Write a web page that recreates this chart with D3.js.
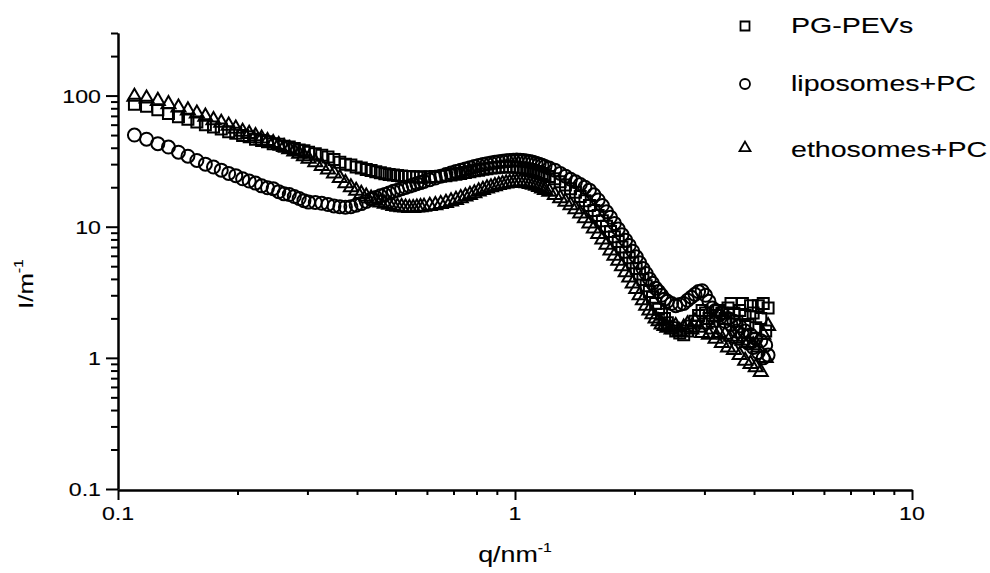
<!DOCTYPE html>
<html><head><meta charset="utf-8">
<script src="https://cdn.jsdelivr.net/npm/d3@7"></script>
<style>
body{margin:0;background:#fff}
svg{display:block}
text{font-family:"Liberation Sans",Arial,sans-serif;fill:#000;stroke:#000;stroke-width:0.12px}
</style>
</head><body>
<svg id="chart" width="990" height="573"></svg>
<script>
// ---- data ----
const q = [
  0.110,0.118,0.126,0.134,0.142,0.150,0.158,0.166,0.174,0.182,
  0.190,0.198,0.206,0.214,0.222,0.230,0.238,0.246,0.254,0.262,
  0.270,0.278,0.286,0.294,0.302,
  0.314,0.326,0.338,0.350,0.362,0.374,0.386,0.398,0.410,0.422,0.434,0.446,
  0.458,0.470,0.482,0.494,0.506,0.518,0.530,0.542,0.554,0.566,0.578,0.590,
  0.61,0.63,0.65,0.67,0.69,0.71,0.73,0.75,0.77,0.79,
  0.81,0.83,0.85,0.87,0.89,0.91,0.93,0.95,0.97,0.99,
  1.01,1.03,1.05,1.07,1.09,1.11,1.13,1.15,1.17,1.19,
  1.22,1.26,1.30,1.34,1.38,1.42,1.46,1.50,1.54,1.58,
  1.62,1.66,1.70,1.74,1.78,1.82,1.86,1.90,1.94,1.98,
  2.02,2.06,2.10,2.14,2.18,2.22,2.26,2.30,2.34,2.38,
  2.42,2.48,2.54,2.60,2.66,2.72,2.78,2.84,2.90,2.96,
  3.02,3.08,3.14,3.20,3.26,3.32,3.38,3.44,3.50,3.56,
  3.62,3.68,3.74,3.80,3.86,3.92,3.98,4.04,4.10,4.16,
  4.22,4.28,4.34
];
const pgPEVs = [
  86,83,78,73,69,66,63,60,57.5,55.5,
  53,51.5,49.5,48.5,46.5,45.5,44.5,43,42.5,41,
  40.5,39.5,38.5,38,37,
  36,35,34,32.5,31,30,29.5,28.5,28,27.3,26.8,26.2,
  25.8,25.3,25,24.8,24.6,24.4,24.2,24.1,24,23.9,23.9,23.9,
  24.0,24.1,24.3,24.5,24.8,25.1,25.5,25.9,26.3,26.7,
  27.0,27.4,27.7,28.0,28.2,28.4,28.5,28.6,28.6,28.5,
  28.4,28.2,28.0,27.7,27.3,26.9,26.4,25.9,25.4,24.9,
  24.2,23.2,22.0,20.8,19.5,18.3,17.0,15.8,14.5,13.3,
  12.2,11.1,10.1,9.2,8.4,7.7,7.0,6.4,5.8,5.3,
  4.8,4.35,3.95,3.55,3.2,2.9,2.6,2.35,2.15,2.0,
  1.85,1.7,1.6,1.55,1.5,1.6,1.75,1.9,2.1,2.3,
  2.2,2.0,1.9,2.1,2.3,2.2,2.0,2.4,2.6,2.2,
  1.9,2.3,2.6,2.1,1.8,2.5,2.2,1.7,2.5,2.0,
  2.6,1.6,2.4
];
const liposomesPC = [
  50,46.5,43,40.5,37,34.5,32,30,28.5,27,
  25.5,24.5,23.2,22.3,21.5,20.5,19.8,19.5,18.5,17.8,
  17.6,17.0,16.4,15.8,15.4,
  15.3,15.1,14.8,14.4,14.2,14.1,14.2,14.6,15.0,15.6,16.2,16.7,
  17.2,17.6,18.1,18.6,19.0,19.5,19.9,20.4,20.8,21.3,21.7,22.1,
  22.8,23.5,24.3,25.0,25.7,26.4,27.0,27.6,28.2,28.8,
  29.3,29.8,30.2,30.6,31.0,31.3,31.6,31.8,32.0,32.1,
  32.2,32.1,32.0,31.7,31.4,31.0,30.5,30.0,29.4,28.8,
  28,27,25.5,24.3,23,22,21,20,19,17.5,
  16,14.5,13,11.8,10.6,9.6,8.7,7.9,7.2,6.5,
  5.9,5.3,4.8,4.4,4.0,3.7,3.4,3.2,3.0,2.8,
  2.7,2.6,2.5,2.55,2.6,2.75,2.9,3.05,3.2,3.25,
  3.0,2.7,2.4,2.3,2.1,2.2,1.9,2.0,1.8,1.9,
  1.6,1.75,1.5,1.6,1.3,1.5,1.2,1.4,1.1,1.35,
  1.0,1.25,1.05
];
const ethosomesPC = [
  98,95,91,86,81,77,73,69,65,62,
  59,56,53,51,49,47,45,43.5,42,40.5,
  39,37.5,36,34.5,33,
  31,29,27.3,25.5,23.5,21.5,20,18.8,17.8,17,16.4,15.8,
  15.3,15,14.7,14.4,14.2,14.1,14,13.9,13.9,14,14.1,14.2,
  14.4,14.6,14.9,15.2,15.6,16.0,16.5,17.0,17.5,18.0,
  18.6,19.1,19.6,20.0,20.4,20.8,21.1,21.4,21.6,21.7,
  21.8,21.8,21.7,21.5,21.2,20.9,20.5,20.1,19.6,19.1,
  18.5,17.5,16.5,15.5,14.6,13.6,12.6,11.6,10.6,9.7,
  8.8,8.0,7.3,6.6,6.0,5.5,5.0,4.5,4.1,3.7,
  3.35,3.0,2.75,2.5,2.3,2.15,2.0,1.9,1.8,1.75,
  1.7,1.65,1.75,1.6,1.7,1.8,1.65,1.9,1.7,1.55,
  1.8,1.5,1.65,1.4,1.55,1.3,1.5,1.2,1.45,1.15,
  1.4,1.05,1.35,0.95,1.3,0.9,1.25,0.85,1.2,0.78,
  1.5,1.0,1.75
];
const seriesNames = ["PG-PEVs", "liposomes+PC", "ethosomes+PC"];
const seriesShapes = ["square", "circle", "triangle"];
const xTickLabels = ["0.1", "1", "10"];
const yTickLabels = ["0.1", "1", "10", "100"];
const xTitle = "q/nm";
const yTitle = "I/m";
const titleSup = "-1";

// ---- layout ----
const SX = 1.22; // wide glyphs seen in the reference
const svg = d3.select("#chart");
const x = d3.scaleLog().domain([0.1, 10]).range([118, 912]);
const y = d3.scaleLog().domain([0.1, 300]).range([489, 33]);
const X0 = 490;

const isMajor = v => Math.abs(Math.log10(v) - Math.round(Math.log10(v))) < 1e-9;

function styleAxis(g) {
  g.selectAll("path,line").attr("stroke", "#000").attr("stroke-width", 2);
  g.selectAll("text").remove();
}
const xMinor = x.ticks().filter(v => !isMajor(v));
const xMajor = x.ticks().filter(isMajor);
svg.append("g").attr("transform", `translate(0,${X0})`)
  .call(d3.axisBottom(x).tickValues(xMinor).tickSize(5).tickSizeOuter(0).tickFormat(""))
  .call(styleAxis);
svg.append("g").attr("transform", `translate(0,${X0})`)
  .call(d3.axisBottom(x).tickValues(xMajor).tickSize(10).tickSizeOuter(0).tickFormat(""))
  .call(styleAxis);

const yMinor = y.ticks().filter(v => !isMajor(v));
const yMajor = y.ticks().filter(isMajor);
svg.append("g").attr("transform", `translate(118,0)`)
  .call(d3.axisLeft(y).tickValues(yMinor).tickSize(7).tickSizeOuter(0).tickFormat(""))
  .call(styleAxis);
svg.append("g").attr("transform", `translate(118,0)`)
  .call(d3.axisLeft(y).tickValues(yMajor).tickSize(12).tickSizeOuter(0).tickFormat(""))
  .call(styleAxis);

// tick labels
xMajor.forEach((v, i) => {
  svg.append("text")
    .attr("transform", `translate(${x(v)},520) scale(${SX},1)`)
    .attr("text-anchor", "middle").attr("font-size", 19)
    .text(xTickLabels[i]);
});
yMajor.forEach((v, i) => {
  svg.append("text")
    .attr("transform", `translate(101,${y(v) + 7}) scale(${SX},1)`)
    .attr("text-anchor", "end").attr("font-size", 19)
    .text(yTickLabels[i]);
});

// axis titles
const xt = svg.append("text")
  .attr("transform", `translate(515,562) scale(${SX},1)`)
  .attr("text-anchor", "middle").attr("font-size", 22);
xt.append("tspan").text(xTitle);
xt.append("tspan").attr("font-size", 13).attr("dy", -10).text(titleSup);

const yt = svg.append("text")
  .attr("transform", `translate(33,284) rotate(-90) scale(${SX},1)`)
  .attr("text-anchor", "middle").attr("font-size", 21);
yt.append("tspan").text(yTitle);
yt.append("tspan").attr("font-size", 13).attr("dy", -10).text(titleSup);

// markers
function markerPath(shape, s) {
  if (shape === "square") return d3.symbol(d3.symbolSquare, s * s)();
  if (shape === "circle") return d3.symbol(d3.symbolCircle, Math.PI * (s / 2) * (s / 2))();
  return d3.symbol(d3.symbolTriangle, s * s * Math.sqrt(3) / 4)();
}
const allSeries = [pgPEVs, liposomesPC, ethosomesPC];
const plotSize = [11, 13, 14];
allSeries.forEach((vals, si) => {
  const d = markerPath(seriesShapes[si], plotSize[si]);
  svg.append("g").selectAll("path")
    .data(q.map((qq, i) => [qq, vals[i]]))
    .join("path")
    .attr("d", d)
    .attr("transform", p => `translate(${x(p[0])},${y(p[1])})`)
    .attr("fill", "none").attr("stroke", "#000").attr("stroke-width", 2);
});

// legend
const legY = [26, 84, 148];
const legBase = [33, 91, 157];
const legSize = [9, 10, 11];
seriesNames.forEach((name, i) => {
  svg.append("path")
    .attr("d", markerPath(seriesShapes[i], legSize[i]))
    .attr("transform", `translate(745,${legY[i]})`)
    .attr("fill", "none").attr("stroke", "#000").attr("stroke-width", 1.8);
  svg.append("text")
    .attr("transform", `translate(791,${legBase[i]}) scale(1.27,1)`)
    .attr("font-size", 22.5)
    .text(name);
});
</script>
</body></html>
